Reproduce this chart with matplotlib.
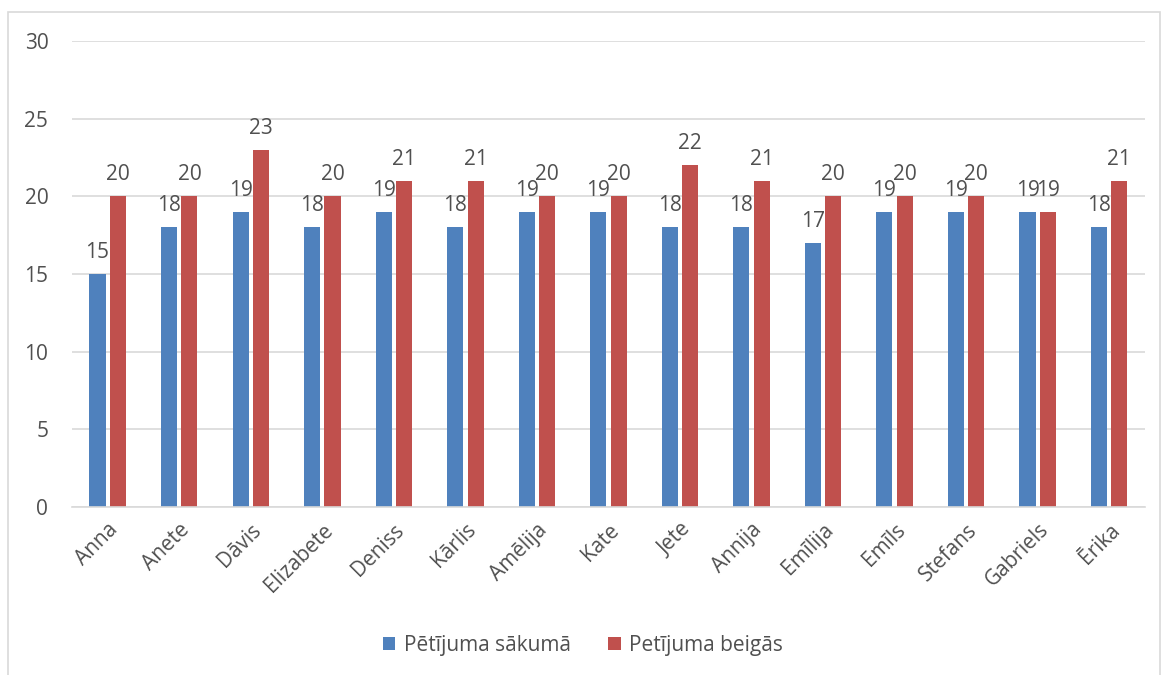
import numpy as np
import matplotlib.pyplot as plt
from matplotlib.patches import Rectangle

names = ["Anna", "Anete", "Dāvis", "Elizabete", "Deniss", "Kārlis", "Amēlija",
         "Kate", "Jete", "Annija", "Emīlija", "Emīls", "Stefans", "Gabriels", "Ērika"]
sakuma = [15, 18, 19, 18, 19, 18, 19, 19, 18, 18, 17, 19, 19, 19, 18]
beigas = [20, 20, 23, 20, 21, 21, 20, 20, 22, 21, 20, 20, 20, 19, 21]
series_names = ["Pētījuma sākumā", "Petījuma beigās"]

plt.rcParams["font.family"] = ["Open Sans", "DejaVu Sans"]
txt = "#505050"
fs = 15

fig = plt.figure(figsize=(11.66, 6.75), dpi=100)
ax = fig.add_axes([0.0617, 0.249, 0.9203, 0.690])

# chart border
fig.patches.append(Rectangle((8 / 1166, -0.01), 1152 / 1166, 1 - 12 / 675 + 0.01,
                             transform=fig.transFigure, fill=False,
                             edgecolor="#d9d9d9", linewidth=1.2))

x = np.arange(len(names))
w = 0.225
gap = 0.06
b1 = ax.bar(x - (w + gap) / 2, sakuma, w, color="#4f81bd", label=series_names[0])
b2 = ax.bar(x + (w + gap) / 2, beigas, w, color="#c0504d", label=series_names[1])
ax.bar_label(b1, padding=8, fontsize=fs, color=txt)
ax.bar_label(b2, padding=8, fontsize=fs, color=txt)

ax.set_xlim(-0.5, len(names) - 0.5)
ax.set_ylim(0, 30)
ax.set_yticks(range(0, 31, 5))
ax.yaxis.grid(True, color="#d9d9d9", linewidth=1.2)
ax.set_axisbelow(True)
for s in ["top", "right", "left"]:
    ax.spines[s].set_visible(False)
ax.spines["bottom"].set_color("#d9d9d9")
ax.spines["bottom"].set_linewidth(1.2)
ax.tick_params(axis="both", length=0, labelsize=fs, labelcolor=txt)
ax.tick_params(axis="y", pad=17)
ax.tick_params(axis="x", pad=9)
ax.set_xticks(x)
ax.set_xticklabels(names, rotation=45, ha="right", rotation_mode="anchor")

fig.legend(handles=[b1, b2], loc="center", bbox_to_anchor=(0.5, 1 - 645 / 675),
           ncol=2, frameon=False, fontsize=fs, labelcolor=txt,
           handlelength=0.6, handleheight=0.6, columnspacing=1.8, handletextpad=0.4)

fig.savefig("out.png", dpi=100)
